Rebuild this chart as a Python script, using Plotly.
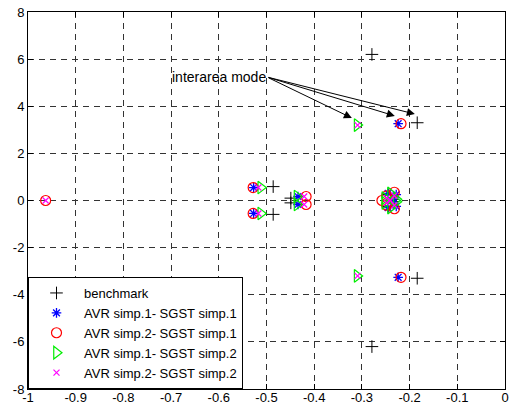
import plotly.graph_objects as go

# ---- data (real part, imaginary part) ----
bench_re = [-0.279, -0.279, -0.184, -0.184, -0.486, -0.486, -0.449, -0.449, -0.245, -0.245, -0.235, -0.235]
bench_im = [6.2, -6.2, 3.3, -3.3, 0.59, -0.59, 0.1, -0.1, 0.25, -0.25, 0.05, -0.05]

s11_re = [-0.224, -0.224, -0.527, -0.527, -0.434, -0.434, -0.245, -0.245, -0.235, -0.235, -0.228, -0.228]
s11_im = [3.26, -3.26, 0.55, -0.55, 0.17, -0.17, 0.3, -0.3, 0.12, -0.12, 0.25, -0.25]

s21_re = [-0.218, -0.218, -0.528, -0.528, -0.417, -0.417, -0.258, -0.248, -0.248, -0.232, -0.232, -0.963]
s21_im = [3.26, -3.26, 0.55, -0.55, 0.17, -0.17, 0.0, 0.2, -0.2, 0.35, -0.35, 0.0]

s12_re = [-0.31, -0.31, -0.512, -0.512, -0.436, -0.436, -0.252, -0.252, -0.24, -0.24, -0.228, -0.228]
s12_im = [3.2, -3.2, 0.55, -0.55, 0.17, -0.17, 0.1, -0.1, 0.3, -0.3, 0.05, -0.05]

s22_re = [-0.309, -0.309, -0.517, -0.517, -0.421, -0.421, -0.248, -0.248, -0.232, -0.232, -0.24, -0.963]
s22_im = [3.2, -3.2, 0.55, -0.55, 0.17, -0.17, 0.1, -0.1, 0.2, -0.2, 0.0, 0.0]

series_names = ["benchmark", "AVR simp.1- SGST simp.1", "AVR simp.2- SGST simp.1",
                "AVR simp.1- SGST simp.2", "AVR simp.2- SGST simp.2"]

x_ticks = [-1, -0.9, -0.8, -0.7, -0.6, -0.5, -0.4, -0.3, -0.2, -0.1, 0]
x_labels = ["-1", "-0.9", "-0.8", "-0.7", "-0.6", "-0.5", "-0.4", "-0.3", "-0.2", "-0.1", "0"]
y_ticks = [-8, -6, -4, -2, 0, 2, 4, 6, 8]
y_labels = ["-8", "-6", "-4", "-2", "0", "2", "4", "6", "8"]

annot_text = "interarea mode"
arrow_tail = (-0.499, 5.24)
arrow_heads_re = [-0.321, -0.231, -0.189]
arrow_heads_im = [3.50, 3.59, 3.67]

# ---- figure ----
fig = go.Figure()
styles = [
    dict(symbol="cross-thin-open", size=9, color="black", line=dict(width=1, color="black")),
    dict(symbol="asterisk-open", size=8, color="blue", line=dict(width=1.3, color="blue")),
    dict(symbol="circle-open", size=10, color="red", line=dict(width=1.2, color="red")),
    dict(symbol="triangle-right-open", size=11, color="#00ee00", line=dict(width=1.2, color="#00ee00")),
    dict(symbol="x-thin-open", size=6, color="magenta", line=dict(width=1.2, color="magenta")),
]
data = [(bench_re, bench_im), (s11_re, s11_im), (s21_re, s21_im), (s12_re, s12_im), (s22_re, s22_im)]
for (re, im), name, st in zip(data, series_names, styles):
    fig.add_trace(go.Scatter(x=re, y=im, mode="markers", name=name, marker=st))

for hx, hy in zip(arrow_heads_re, arrow_heads_im):
    fig.add_annotation(x=hx, y=hy, ax=arrow_tail[0], ay=arrow_tail[1], axref="x", ayref="y",
                       xref="x", yref="y", text="", showarrow=True, arrowhead=2, arrowsize=1.6,
                       arrowwidth=1, arrowcolor="black", standoff=0, startstandoff=0)
fig.add_annotation(x=arrow_tail[0], y=arrow_tail[1], xref="x", yref="y", text=annot_text,
                   showarrow=False, xanchor="right", yanchor="middle", xshift=1,
                   font=dict(family="Arial, Liberation Sans", size=14, color="black"))

axis_common = dict(showline=True, linecolor="black", linewidth=1, mirror="ticks",
                   ticks="inside", ticklen=5, tickcolor="black", showgrid=True,
                   gridcolor="#333333", gridwidth=1, griddash="6px,5px", zeroline=False,
                   automargin=False,
                   tickfont=dict(family="Arial, Liberation Sans", size=13, color="black"))
fig.update_xaxes(range=[-1, 0], tickvals=x_ticks, ticktext=x_labels, ticklabelstandoff=-4,
                 **axis_common)
fig.update_yaxes(range=[-8, 8], tickvals=y_ticks, ticktext=y_labels, **axis_common)

fig.update_layout(
    width=515, height=406,
    margin=dict(l=28, r=10, t=12, b=17),
    plot_bgcolor="white", paper_bgcolor="white",
    showlegend=True,
    legend=dict(x=0, y=0, xanchor="left", yanchor="bottom", bgcolor="white",
                bordercolor="black", borderwidth=1, itemwidth=45,
                font=dict(family="Arial, Liberation Sans", size=13, color="black")),
)

fig.write_html("out.html")
